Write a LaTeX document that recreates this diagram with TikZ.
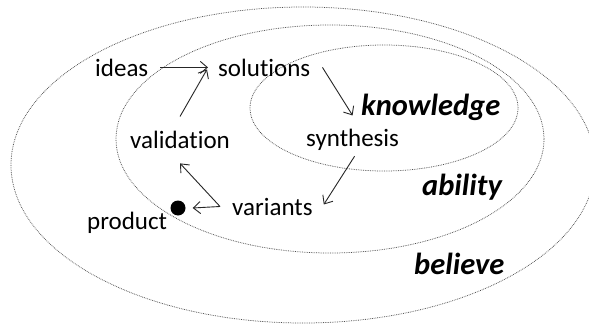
\documentclass[tikz,border=0pt]{standalone}
\usepackage{fontspec}
\setmainfont{Carlito}[Ligatures=NoCommon]
\usetikzlibrary{arrows.meta}
\begin{document}
\begin{tikzpicture}[x=1pt,y=-1pt,
  lbl/.style={inner sep=0pt, anchor=base west, font=\fontsize{25}{30}\selectfont},
  big/.style={inner sep=0pt, anchor=base west, font=\fontsize{30.5}{36}\selectfont\bfseries\itshape},
  ring/.style={draw=black!70, line width=0.75pt, densely dotted},
  arr/.style={draw=black!85, line width=0.9pt, -{Straight Barb[length=7pt,width=12pt,line width=0.9pt]}}]
\useasboundingbox (0,0) rectangle (589,324);
\fill[white] (0,0) rectangle (589,324);
% ellipses
\draw[ring] (303,165) ellipse [x radius=292pt, y radius=158pt];
\draw[ring] (330,139) ellipse [x radius=214pt, y radius=114pt];
\draw[ring] (384,108) ellipse [x radius=134pt, y radius=63pt];
% texts
\node[lbl] (ideas) at (95,76) {ideas};
\node[lbl] (solutions) at (218,76) {solutions};
\node[lbl] (validation) at (130,148) {validation};
\node[lbl] (synthesis) at (306,146) {synthesis};
\node[lbl] (variants) at (232,215) {variants};
\node[lbl] (product) at (87,229) {product};
\node[big] (knowledge) at (361,115) {knowledge};
\node[big] (ability) at (422,195) {ability};
\node[big] (believe) at (414,274) {believe};
\node[circle, fill=black, inner sep=0pt, minimum size=15pt] (dot) at (178,208) {};
\coordinate (corner) at ([xshift=-12pt]variants.west);
% arrows
\draw[arr] ([xshift=12pt]ideas.east) -- ([xshift=-10pt]solutions.west);
\draw[arr] ([yshift=14pt]validation.north) -- ([xshift=-11pt,yshift=-2pt]solutions.west);
\draw[arr] ([xshift=12pt]solutions.east) -- ([yshift=13pt]synthesis.north);
\draw[arr] ([xshift=2pt,yshift=-6pt]synthesis.south) -- ([xshift=11pt,yshift=2pt]variants.east);
\draw[arr] (corner) -- ([yshift=-15pt]validation.south);
\draw[arr] (corner) -- ([xshift=7pt]dot.east);
\end{tikzpicture}
\end{document}
